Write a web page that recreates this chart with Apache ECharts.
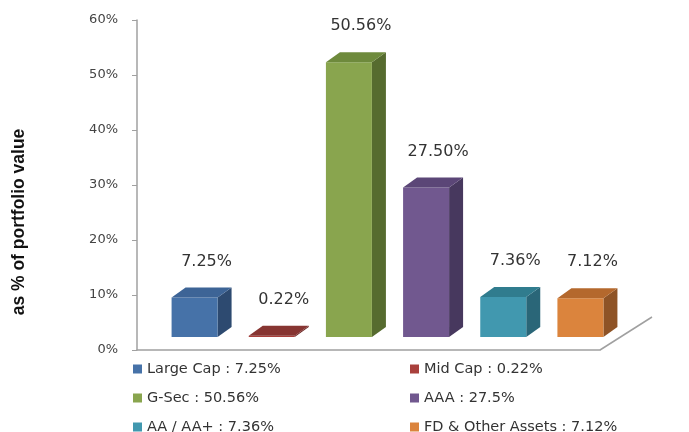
<!DOCTYPE html>
<html>
<head>
<meta charset="utf-8">
<script src="https://cdn.jsdelivr.net/npm/echarts@6/dist/echarts.min.js"></script>
<style>
  html, body { margin: 0; padding: 0; background: #fff; }
  #main { width: 689px; height: 432px; }
</style>
</head>
<body>
<div id="main"></div>
<script>
// data
const categories = ['Large Cap', 'Mid Cap', 'G-Sec', 'AAA', 'AA / AA+', 'FD & Other Assets'];
const values = [7.25, 0.22, 50.56, 27.50, 7.36, 7.12];
const barLabels = ['7.25%', '0.22%', '50.56%', '27.50%', '7.36%', '7.12%'];
const legendLabels = ['Large Cap : 7.25%', 'Mid Cap : 0.22%', 'G-Sec : 50.56%', 'AAA : 27.5%', 'AA / AA+ : 7.36%', 'FD & Other Assets : 7.12%'];
const yMin = 0, yMax = 60, yStep = 10;

// 3d faces: front / top / side
const frontColors = ['#4672a8', '#a9403c', '#89a54e', '#71588f', '#4198af', '#db843d'];
const topColors = ['#3d6496', '#873532', '#6e8a3c', '#5b4677', '#307c8e', '#b4682d'];
const sideColors = ['#2d4a70', '#6e2a28', '#566b2f', '#47385e', '#2a6678', '#8e5326'];

const chart = echarts.init(document.getElementById('main'));

function renderBox(params, api) {
  const i = api.value(0)
  const top = api.coord([i, api.value(1)])
  const base = api.coord([i, 0])
  const w = 46, dx = 14, dy = -10
  const x0 = top[0] - w / 2, x1 = x0 + w
  const ty = top[1], by = base[1]
  return {
    type: 'group',
    children: [
      {
        type: 'polygon',
        shape: { points: [[x1, ty], [x1 + dx, ty + dy], [x1 + dx, by + dy], [x1, by]] },
        style: { fill: sideColors[i] }
      },
      {
        type: 'rect',
        shape: { x: x0, y: ty, width: w, height: by - ty },
        style: { fill: frontColors[i] }
      },
      {
        type: 'polygon',
        shape: { points: [[x0, ty], [x0 + dx, ty + dy], [x1 + dx, ty + dy], [x1, ty]] },
        style: { fill: topColors[i] }
      },
      {
        type: 'text',
        x: top[0] + 12,
        y: ty - 36,
        style: {
          text: barLabels[i],
          fill: '#333',
          font: '16px "DejaVu Sans"',
          textAlign: 'center',
          textVerticalAlign: 'middle'
        }
      }
    ]
  }
}

const series = categories.map((name, i) => ({
  name: legendLabels[i],
  type: 'custom',
  xAxisIndex: 1,
  yAxisIndex: 1,
  itemStyle: { color: frontColors[i] },
  renderItem: renderBox,
  data: [[i, values[i]]]
}))

const option = {
  animation: false,
  grid: [
    { left: 137, right: 89, top: 20, bottom: 82 },
    { left: 156, right: 70, top: 11, bottom: 95 }
  ],
  xAxis: [
    {
      gridIndex: 0,
      type: 'category',
      data: categories,
      axisLine: { lineStyle: { color: '#a0a0a0', width: 1.5 } },
      axisTick: { show: false },
      axisLabel: { show: false }
    },
    {
      gridIndex: 1,
      type: 'category',
      data: categories,
      show: false
    }
  ],
  yAxis: [
    {
      gridIndex: 0,
      type: 'value',
      min: yMin,
      max: yMax,
      interval: yStep,
      axisLine: { show: true, lineStyle: { color: '#a0a0a0', width: 1.5 } },
      axisTick: { show: true, length: 5, lineStyle: { color: '#a0a0a0' } },
      splitLine: { show: false },
      axisLabel: {
        formatter: '{value}%',
        color: '#444',
        fontFamily: 'DejaVu Sans',
        fontSize: 13,
        margin: 19
      }
    },
    {
      gridIndex: 1,
      type: 'value',
      min: yMin,
      max: yMax,
      show: false
    }
  ],
  legend: {
    left: 128,
    top: 355,
    width: 560,
    icon: 'rect',
    itemWidth: 9,
    itemHeight: 9,
    itemGap: 11,
    selectedMode: false,
    data: legendLabels,
    textStyle: {
      width: 252,
      lineHeight: 18,
      color: '#333',
      fontFamily: 'DejaVu Sans',
      fontSize: 14.5
    }
  },
  graphic: [
    {
      type: 'text',
      x: 19,
      y: 222,
      rotation: Math.PI / 2,
      style: {
        text: 'as % of portfolio value',
        font: 'bold 17.5px "Liberation Sans"',
        fill: '#111',
        textAlign: 'center',
        textVerticalAlign: 'middle'
      }
    },
    {
      type: 'line',
      shape: { x1: 600, y1: 350, x2: 652, y2: 317 },
      style: { stroke: '#a0a0a0', lineWidth: 1.5 }
    }
  ],
  series: series
}

chart.setOption(option)
</script>
</body>
</html>
